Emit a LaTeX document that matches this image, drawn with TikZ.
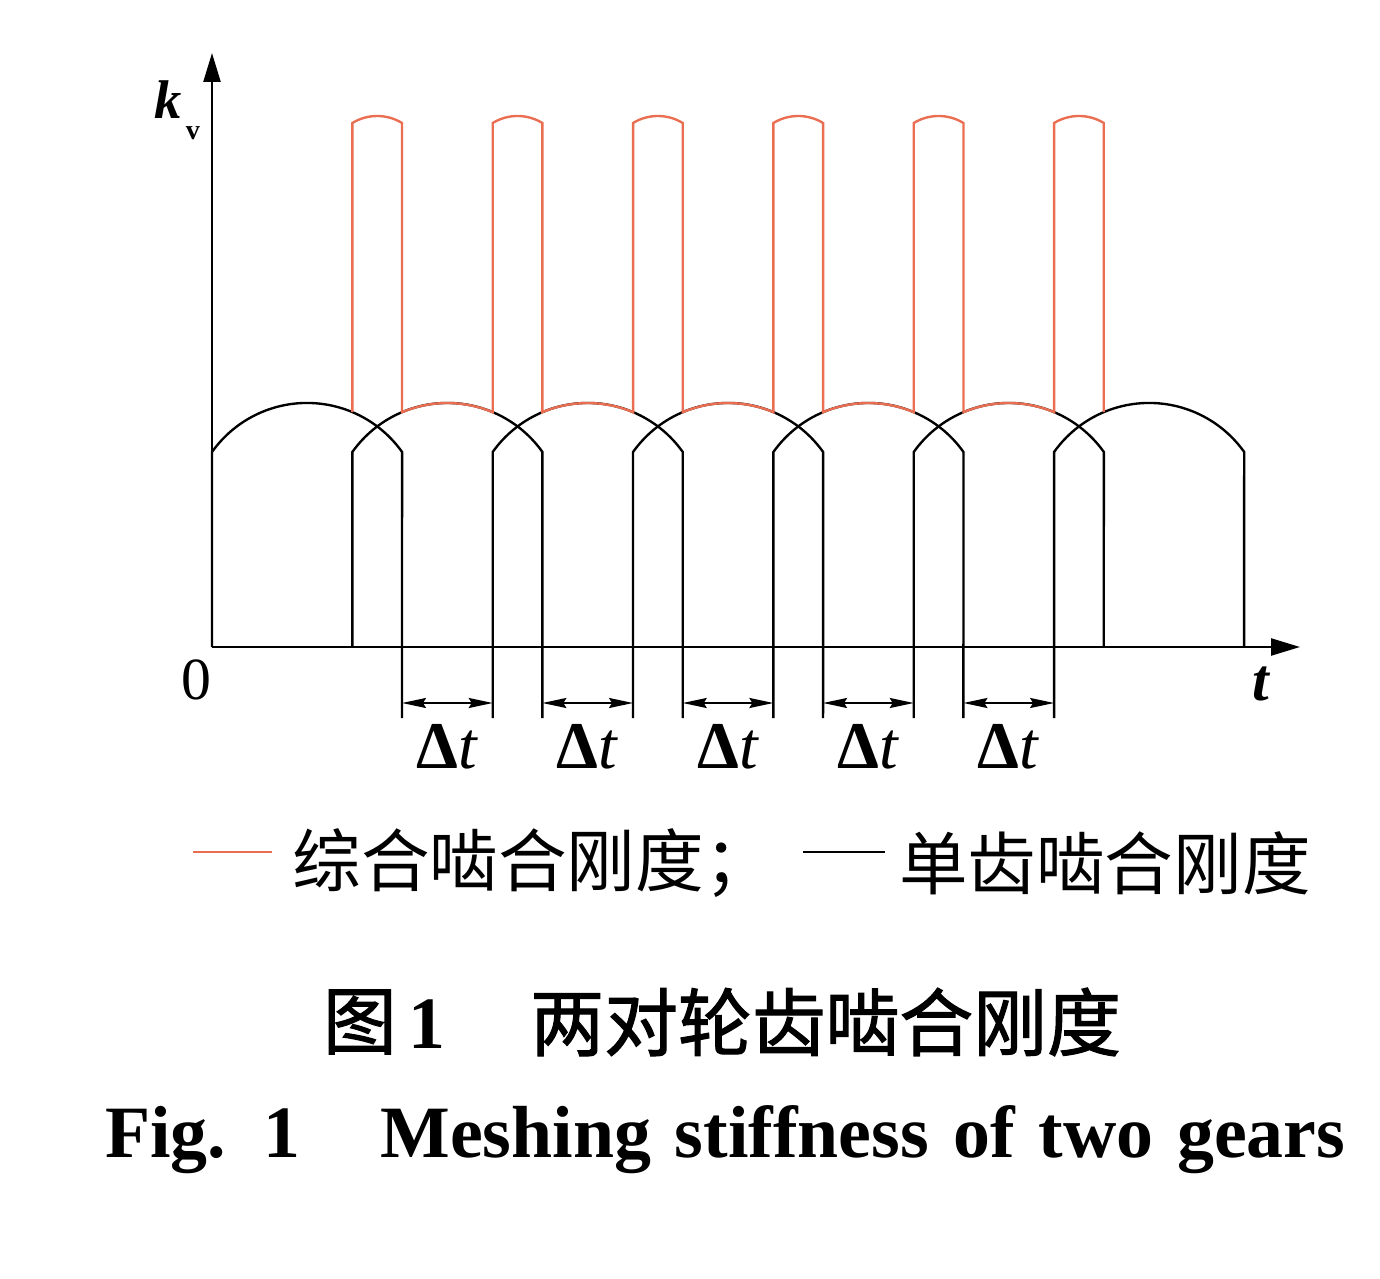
\documentclass[tikz,border=0pt]{standalone}
\usepackage{fontspec}
\setmainfont{Liberation Serif}
\newfontfamily\cjk{Noto Sans CJK SC}
\newfontfamily\cjkbf[FakeBold=1.5]{Noto Sans CJK SC}
\usetikzlibrary{arrows.meta}
\definecolor{combred}{RGB}{234,110,82}
\tikzset{
  singleline/.style={black, line width=1.35pt},
  combline/.style={combred, line width=1.35pt},
  axisline/.style={black, line width=1.35pt, -{Triangle[length=0.58cm,width=0.34cm]}},
  dimline/.style={black, line width=1.1pt, {Stealth[length=0.48cm,width=0.2cm,inset=0.06cm]}-{Stealth[length=0.48cm,width=0.2cm,inset=0.06cm]}},
}

\begin{document}
\begin{tikzpicture}
			\useasboundingbox (0,0) rectangle (27.6,25.56);
			\draw[singleline] (4.24,12.62) -- (4.24,16.52) arc[start angle=144.6,end angle=35.4,radius=2.332] -- (8.04,11.2); % Arch 1
			\draw[singleline] (7.047,12.62) -- (7.047,16.52) arc[start angle=144.6,end angle=35.4,radius=2.332] -- (10.847,11.2); % Arch 2
			\draw[singleline] (9.854,11.2) -- (9.854,16.52) arc[start angle=144.6,end angle=35.4,radius=2.332] -- (13.654,11.2); % Arch 3
			\draw[singleline] (12.661,11.2) -- (12.661,16.52) arc[start angle=144.6,end angle=35.4,radius=2.332] -- (16.461,11.2); % Arch 4
			\draw[singleline] (15.468,11.2) -- (15.468,16.52) arc[start angle=144.6,end angle=35.4,radius=2.332] -- (19.268,11.2); % Arch 5
			\draw[singleline] (18.275,11.2) -- (18.275,16.52) arc[start angle=144.6,end angle=35.4,radius=2.332] -- (22.075,12.62); % Arch 6
			\draw[singleline] (21.082,11.2) -- (21.082,16.52) arc[start angle=144.6,end angle=35.4,radius=2.332] -- (24.882,12.62); % Arch 7
			\draw[combline] (7.047,17.316) -- ++(0,5.784) arc[start angle=121.5,end angle=58.5,radius=0.9504] -- ++(0,-5.784)
				arc[start angle=112.89,end angle=67.11,radius=2.332] -- ++(0,5.784) arc[start angle=121.5,end angle=58.5,radius=0.9504] -- ++(0,-5.784)
				arc[start angle=112.89,end angle=67.11,radius=2.332] -- ++(0,5.784) arc[start angle=121.5,end angle=58.5,radius=0.9504] -- ++(0,-5.784)
				arc[start angle=112.89,end angle=67.11,radius=2.332] -- ++(0,5.784) arc[start angle=121.5,end angle=58.5,radius=0.9504] -- ++(0,-5.784)
				arc[start angle=112.89,end angle=67.11,radius=2.332] -- ++(0,5.784) arc[start angle=121.5,end angle=58.5,radius=0.9504] -- ++(0,-5.784)
				arc[start angle=112.89,end angle=67.11,radius=2.332] -- ++(0,5.784) arc[start angle=121.5,end angle=58.5,radius=0.9504] -- ++(0,-5.784); % Combined stiffness
			\draw[axisline] (4.24,12.62) -- (4.24,24.5); % Axis k
			\draw[axisline] (4.24,12.62) -- (26.0,12.62); % Axis t
			\draw[dimline] (8.04,11.5) -- (9.854,11.5); % Interval 1
			\draw[dimline] (10.847,11.5) -- (12.661,11.5); % Interval 2
			\draw[dimline] (13.654,11.5) -- (15.468,11.5); % Interval 3
			\draw[dimline] (16.461,11.5) -- (18.275,11.5); % Interval 4
			\draw[dimline] (19.268,11.5) -- (21.082,11.5); % Interval 5
			\node (kv) at (3.36,23.56) {\fontsize{31}{31}\selectfont\textbf{\textit{k}}}; % Label for axis k
			\node (kvsub) at (3.86,22.9) {\fontsize{16}{16}\selectfont\textbf{v}};
			\node (zero) at (3.92,11.96) {\fontsize{34}{34}\selectfont 0}; % Label for origin
			\node (tlab) at (25.24,11.88) {\fontsize{34}{34}\selectfont\textbf{\textit{t}}}; % Label for axis t
			\node (dt1) at (8.947,10.62) {\fontsize{38}{38}\selectfont\textbf{Δ}\textit{t}};
			\node (dt2) at (11.754,10.62) {\fontsize{38}{38}\selectfont\textbf{Δ}\textit{t}};
			\node (dt3) at (14.561,10.62) {\fontsize{38}{38}\selectfont\textbf{Δ}\textit{t}};
			\node (dt4) at (17.368,10.62) {\fontsize{38}{38}\selectfont\textbf{Δ}\textit{t}};
			\node (dt5) at (20.175,10.62) {\fontsize{38}{38}\selectfont\textbf{Δ}\textit{t}};
			\draw[combline] (3.86,8.52) -- (5.44,8.52); % Legend combined
			\node[anchor=west, inner sep=0pt] (legcomb) at (5.85,8.3) {\fontsize{39}{39}\selectfont\cjk 综合啮合刚度；};
			\draw[singleline] (16.06,8.52) -- (17.7,8.52); % Legend single
			\node[anchor=west, inner sep=0pt] (legsingle) at (17.98,8.3) {\fontsize{39}{39}\selectfont\cjk 单齿啮合刚度};
			\node[anchor=west, inner sep=0pt] (capfig) at (6.45,5.12) {\fontsize{42}{42}\selectfont{\cjkbf 图}\,{\rmfamily\bfseries 1}};
			\node[anchor=west, inner sep=0pt] (captitle) at (10.6,5.12) {\fontsize{42}{42}\selectfont\cjkbf 两对轮齿啮合刚度};
			\node[anchor=west, inner sep=0pt] (capennum) at (2.1,2.76) {\fontsize{42}{42}\selectfont\makebox[3.9cm][s]{\textbf{Fig. 1}}};
			\node[anchor=west, inner sep=0pt] (capentext) at (7.6,2.76) {\fontsize{42}{42}\selectfont\makebox[19.3cm][s]{\textbf{Meshing stiffness of two gears}}};
		\end{tikzpicture}
\end{document}
